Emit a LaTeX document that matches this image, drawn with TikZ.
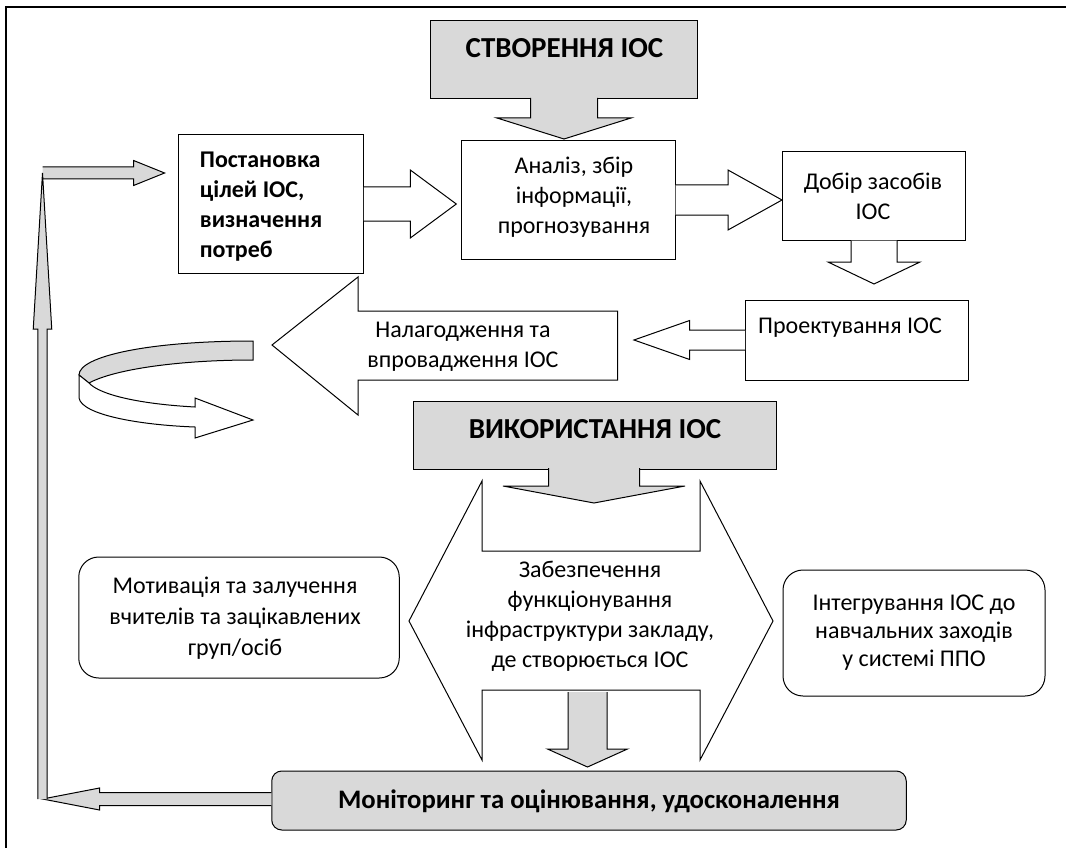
\documentclass[tikz,border=0pt]{standalone}
\usepackage{fontspec}
\setmainfont{Carlito}
\usetikzlibrary{calc,positioning}
\definecolor{boxgray}{HTML}{D9D9D9}
\newcommand{\regfont}{\fontsize{24}{30}\selectfont}
\newcommand{\boldfont}{\fontsize{24}{30}\selectfont\bfseries}
\newcommand{\ttlfont}{\fontsize{29}{30}\selectfont\bfseries}
% block arrow: [fill] {back point} {tip} {stem half} {head half} {head length}
\newcommand{\blockarrow}[6][white]{%
  \path[draw=black, fill=#1, line width=1pt, line join=miter]
    let \p1=(#2), \p2=(#3),
        \n1={atan2(scalar(\y2-\y1),scalar(\x2-\x1))},
        \n2={veclen(scalar(\x2-\x1),scalar(\y2-\y1))} in
    [shift={(\p2)}, rotate=\n1]
    (-\n2pt,#4pt) -- (-#6pt,#4pt) -- (-#6pt,#5pt) -- (0pt,0pt)
    -- (-#6pt,-#5pt) -- (-#6pt,-#4pt) -- (-\n2pt,-#4pt);}
\begin{document}
\begin{tikzpicture}[x=1pt, y=-1pt,
    box/.style={draw, line width=1pt, fill=white, inner sep=0pt},
    gbox/.style={box, fill=boxgray},
    rbox/.style={box, rounded corners=20pt},
    txt/.style={font=\regfont, align=center, inner sep=0pt},
    ttl/.style={font=\ttlfont, inner sep=0pt, anchor=base},
    callout/.style={draw, line width=1pt, fill=white, line join=miter}
  ]
  \useasboundingbox (0,0) rectangle (1066,848);
  \draw[line width=2.2pt] (6,870) -- (6,7) -- (1090,7);

  % boxes of the creation stage
  \node[gbox, minimum width=267, minimum height=78] (cr) at (564,60) {};
  \node[box, minimum width=185, minimum height=138] (post) at (270.9,204) {};
  \node[box, minimum width=214, minimum height=118] (anal) at (568,200) {};
  \node[box, minimum width=183, minimum height=88] (dob) at (873.5,196) {};
  \node[box, minimum width=223, minimum height=80] (proj) at (857,340) {};
  \draw[callout] (617.5,311) -- (358,311) -- (358,277) -- (272,345)
    -- (358,415) -- (358,380) -- (617.5,380) -- cycle;

  % boxes of the usage stage
  \node[gbox, minimum width=363, minimum height=68] (vyk) at (594.5,435) {};
  \draw[callout] (482,481) -- (409,621) -- (482,760) -- (482,690) -- (700,690)
    -- (700,760) -- (773,621) -- (700,481) -- (700,551) -- (482,551) -- cycle;
  \node[rbox, minimum width=320.5, minimum height=121] (mot) at (239,617.5) {};
  \node[rbox, minimum width=262, minimum height=126] (int) at (914,633) {};
  \node[gbox, rounded corners=10pt, minimum width=634.5, minimum height=59] (mon) at (589,800.5) {};

  % texts
  \node[ttl] at (564.5,58) {СТВОРЕННЯ ІОС};
  \node[txt, font=\boldfont, align=left, anchor=west] (posttxt) at (199.7,206.8)
    {Постановка\\цілей ІОС,\\визначення\\потреб};
  \node[txt] (analtxt) at (574,197.3) {Аналіз, збір\\інформації,\\прогнозування};
  \node[txt] (dobtxt) at (873,196.8) {Добір засобів\\ІОС};
  \node[txt, anchor=base] (projtxt) at (850,333) {Проектування ІОС};
  \node[txt] (nal) at (463,346.8) {Налагодження та\\впровадження ІОС};
  \node[ttl] at (595,438) {ВИКОРИСТАННЯ ІОС};
  \node[txt] (zab) at (590,616.3) {Забезпечення\\функціонування\\інфраструктури закладу,\\де створюється ІОС};
  \node[txt, font=\fontsize{24}{31}\selectfont] (mottxt) at (235,618.3) {Мотивація та залучення\\вчителів та зацікавлених\\груп/осіб};
  \node[txt, font=\fontsize{24}{28}\selectfont] (inttxt) at (914,632.3) {Інтегрування ІОС до\\навчальних заходів\\у системі ППО};
  \node[ttl, font=\fontsize{26.7}{30}\selectfont\bfseries] at (589,808) {Моніторинг та оцінювання, удосконалення};

  % arrow tips
  \coordinate (t1) at (456.3,204);
  \coordinate (t2) at (782,200);
  \coordinate (t3) at (874,284);
  \coordinate (t4) at (634,340);
  \coordinate (t5) at (564,139);
  \coordinate (t6) at (594,503);
  \coordinate (zabnotch) at (587.5,692);
  \coordinate (t7) at (587.5,767);
  \coordinate (lb) at (42.5,799);
  \coordinate (lt) at (42.5,173);
  \coordinate (t10) at (164.6,173);

  % block arrows
  \blockarrow{post.east |- t1}{t1}{17}{34}{46}
  \blockarrow{anal.east |- t2}{t2}{15}{30}{54}
  \blockarrow{dob.south -| t3}{t3}{23}{46}{22}
  \blockarrow{proj.west |- t4}{t4}{10}{19.5}{55.6}
  \blockarrow[boxgray]{$(cr.south -| t5)+(0,-1.5)$}{t5}{33.5}{67}{21}
  \blockarrow[boxgray]{$(vyk.south -| t6)+(0,-1.5)$}{t6}{45.5}{91}{17}
  \blockarrow[boxgray]{zabnotch}{t7}{19.5}{40}{18}

  % feedback loop
  \blockarrow[boxgray]{mon.west |- lb}{lb}{6.5}{11}{57}
  \blockarrow[boxgray]{lt}{t10}{6}{12.5}{31}
  \blockarrow[boxgray]{lb}{lt}{4.7}{9.25}{156}

  % turning arrow
  \draw[callout, fill=boxgray] (253,341) .. controls (150,341) and (79,356) .. (79,375)
    -- (89,383) .. controls (115,369) and (180,360) .. (253,360) -- cycle;
  \draw[callout] (79,375) -- (79,398) .. controls (82,415) and (140,425) .. (195,427)
    -- (195,438) -- (253,420) -- (195,398) -- (195,407)
    .. controls (140,404) and (100,395) .. (89,383) -- cycle;
\end{tikzpicture}
\end{document}
